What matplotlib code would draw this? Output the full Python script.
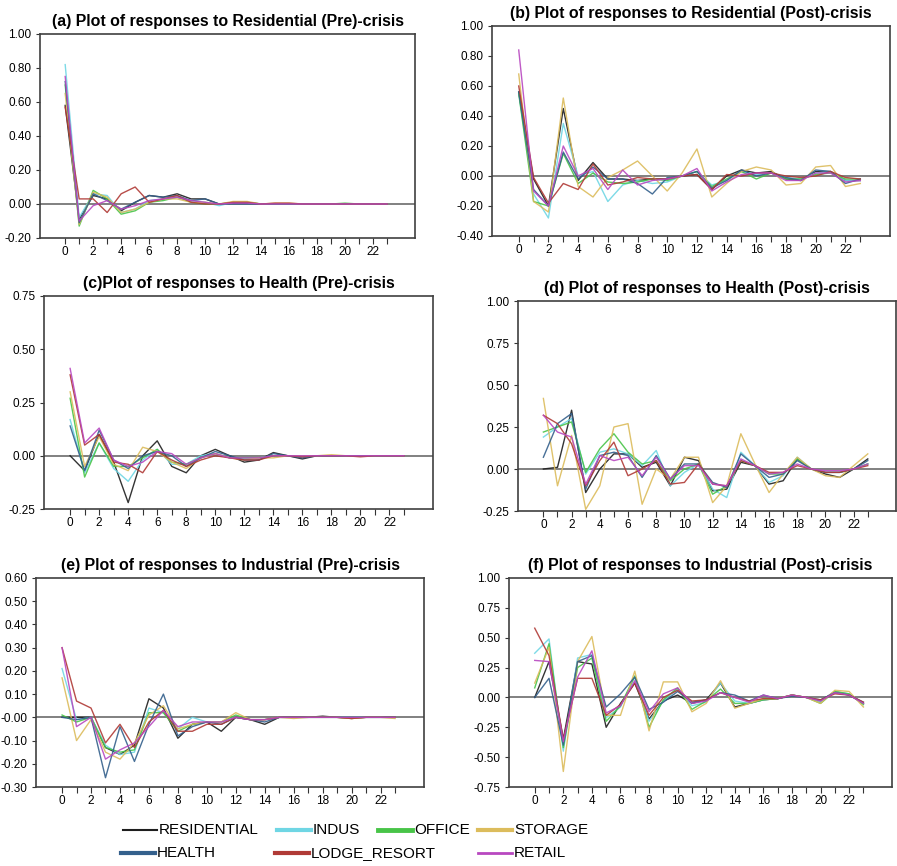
import numpy as np
import matplotlib
matplotlib.use("Agg")
import matplotlib.pyplot as plt
from matplotlib.lines import Line2D

plt.rcParams["font.family"] = ["Liberation Sans", "DejaVu Sans"]

# ===== 数据 =====
series_names = ["RESIDENTIAL", "INDUS", "OFFICE", "STORAGE", "HEALTH", "LODGE_RESORT", "RETAIL"]
series_colors = ["#1e1e1e", "#6fd6e4", "#48c448", "#dcbc5c", "#34608c", "#b03a36", "#b848c0"]
horizon = list(range(24))

# 每个面板: 7 条序列, 顺序同 series_names
resp_a = [
    [0.58, -0.09, 0.05, 0.03, -0.04, 0.01, 0.05, 0.04, 0.06, 0.03, 0.03, 0.00, 0.005, 0.005, 0, 0, 0, 0, 0, 0, 0, 0, 0, 0],
    [0.82, -0.08, 0.06, 0.05, -0.05, -0.03, 0.02, 0.03, 0.04, 0.02, 0.01, -0.01, 0.01, 0.01, 0, 0, 0, 0, 0, 0, 0, 0, 0, 0],
    [0.70, -0.13, 0.08, 0.03, -0.06, -0.04, 0.01, 0.02, 0.04, 0.01, 0.00, 0.00, 0.01, 0.01, 0, 0, 0, 0, 0, 0, 0.005, 0, 0, 0],
    [0.65, -0.12, 0.07, 0.04, -0.05, -0.03, 0.01, 0.03, 0.03, 0.01, 0.01, 0.00, 0.015, 0.015, 0, 0.005, 0.005, 0, 0, 0, 0, 0, 0, 0],
    [0.72, -0.11, 0.06, 0.02, -0.03, 0.01, 0.05, 0.04, 0.05, 0.02, 0.03, 0.00, 0, 0, 0, 0, 0, 0, 0, 0, 0, 0, 0, 0],
    [0.57, 0.03, 0.03, -0.05, 0.06, 0.10, 0.01, 0.03, 0.05, 0.01, 0.00, 0.00, 0.01, 0.01, 0, 0.005, 0.005, 0, 0, 0, 0, 0, 0, 0],
    [0.75, -0.10, -0.01, 0.02, -0.03, -0.01, 0.02, 0.03, 0.04, 0.02, 0.01, 0.00, 0.005, 0.005, 0, 0, 0, 0, 0, 0, 0, 0, 0, 0],
]
resp_b = [
    [0.56, -0.02, -0.20, 0.45, -0.03, 0.09, -0.02, -0.02, -0.03, -0.02, -0.02, 0.00, 0.01, -0.09, 0.00, 0.04, 0.02, 0.03, -0.02, -0.03, 0.03, 0.03, -0.03, -0.03],
    [0.55, -0.12, -0.28, 0.35, 0.00, 0.03, -0.17, -0.06, -0.03, -0.05, -0.04, 0.00, 0.03, -0.06, -0.03, 0.03, 0.01, 0.02, -0.01, -0.02, 0.02, 0.03, -0.03, -0.03],
    [0.55, -0.17, -0.20, 0.15, -0.05, 0.02, -0.04, -0.05, -0.04, -0.02, -0.03, 0.00, 0.03, -0.07, -0.02, 0.03, -0.02, 0.02, -0.02, -0.02, 0.01, 0.02, -0.02, -0.02],
    [0.68, -0.17, -0.24, 0.52, -0.07, -0.14, -0.01, 0.04, 0.10, 0.00, -0.10, 0.02, 0.18, -0.14, -0.05, 0.03, 0.06, 0.04, -0.06, -0.05, 0.06, 0.07, -0.07, -0.05],
    [0.56, -0.09, -0.20, 0.16, -0.02, 0.06, -0.02, -0.02, -0.05, -0.12, -0.01, 0.00, 0.03, -0.08, -0.03, 0.04, 0.00, 0.02, -0.01, -0.03, 0.04, 0.03, -0.05, -0.02],
    [0.60, -0.01, -0.18, -0.05, -0.09, 0.08, -0.06, -0.04, -0.01, -0.02, -0.02, 0.00, 0.01, -0.09, 0.01, 0.00, 0.02, 0.02, 0.00, -0.01, 0.00, 0.03, -0.01, -0.02],
    [0.84, -0.10, -0.20, 0.20, 0.00, 0.05, -0.09, 0.04, -0.06, -0.03, -0.02, 0.00, 0.05, -0.10, -0.04, 0.01, 0.02, 0.02, -0.03, -0.03, 0.02, 0.02, -0.04, -0.03],
]
resp_c = [
    [0.00, -0.07, 0.10, -0.03, -0.22, 0.00, 0.07, -0.05, -0.08, 0.00, 0.03, 0.00, -0.03, -0.02, 0.015, 0, -0.015, 0, 0, 0, 0, 0, 0, 0],
    [0.17, -0.08, 0.06, -0.06, -0.12, -0.02, 0.03, -0.04, -0.04, 0.00, 0.01, -0.01, -0.01, -0.01, 0, 0, 0, 0, 0, 0, 0, 0, 0, 0],
    [0.27, -0.10, 0.06, -0.05, -0.05, -0.01, 0.03, -0.03, -0.04, -0.01, 0.01, -0.01, -0.01, -0.01, 0, 0, 0, 0, 0, 0, 0, 0, 0, 0],
    [0.30, -0.05, 0.09, -0.04, -0.07, 0.04, 0.02, -0.03, -0.06, -0.01, 0.01, -0.01, -0.02, -0.01, -0.01, 0, 0, 0, 0.005, 0, 0, 0, 0, 0],
    [0.14, -0.07, 0.12, -0.02, -0.06, 0.00, 0.02, 0.00, -0.05, -0.01, 0.02, 0.00, -0.02, -0.02, 0.01, 0, -0.01, 0, 0, 0, 0, 0, 0, 0],
    [0.38, 0.05, 0.10, -0.03, -0.04, -0.08, 0.02, -0.02, -0.05, -0.02, 0.00, -0.01, -0.02, -0.02, 0, 0, -0.005, 0, 0, 0, -0.005, 0, 0, 0],
    [0.41, 0.06, 0.13, -0.02, -0.05, -0.03, 0.02, 0.01, -0.04, -0.01, 0.01, -0.01, -0.01, -0.01, 0, 0, 0, 0, 0, 0, 0, 0, 0, 0],
]
resp_d = [
    [0.00, 0.01, 0.35, -0.14, 0.00, 0.09, 0.09, 0.01, 0.04, -0.10, 0.07, 0.05, -0.13, -0.12, 0.04, 0.02, -0.09, -0.07, 0.06, 0.00, -0.03, -0.05, 0.00, 0.06],
    [0.19, 0.25, 0.30, -0.03, 0.10, 0.12, 0.09, 0.02, 0.11, -0.10, -0.02, 0.03, -0.12, -0.17, 0.10, 0.02, -0.08, -0.04, 0.07, 0.00, -0.02, -0.02, 0.00, 0.03],
    [0.22, 0.25, 0.28, -0.02, 0.12, 0.21, 0.10, 0.03, 0.05, -0.07, 0.00, 0.03, -0.15, -0.10, 0.05, 0.02, -0.03, -0.03, 0.06, 0.00, -0.02, -0.02, 0.00, 0.03],
    [0.42, -0.10, 0.20, -0.24, -0.10, 0.25, 0.27, -0.21, 0.00, -0.06, 0.07, 0.07, -0.20, -0.10, 0.21, 0.03, -0.14, -0.03, 0.07, 0.00, -0.04, -0.05, 0.02, 0.09],
    [0.07, 0.27, 0.33, -0.12, 0.08, 0.10, 0.08, -0.05, 0.08, -0.06, 0.03, 0.03, -0.08, -0.11, 0.09, 0.02, -0.05, -0.03, 0.05, 0.00, -0.02, -0.02, 0.00, 0.05],
    [0.32, 0.27, 0.15, -0.10, 0.05, 0.16, -0.04, 0.00, 0.05, -0.09, -0.08, 0.03, -0.09, -0.10, 0.05, 0.02, -0.02, -0.02, 0.02, 0.00, -0.02, -0.02, 0.00, 0.02],
    [0.32, 0.22, 0.19, -0.09, 0.08, 0.05, 0.07, -0.04, 0.07, -0.06, 0.02, 0.02, -0.09, -0.10, 0.06, 0.02, -0.03, -0.02, 0.03, 0.00, -0.01, -0.01, 0.00, 0.03],
]
resp_e = [
    [0.00, 0.00, 0.00, -0.13, -0.16, -0.12, 0.08, 0.04, -0.09, -0.03, -0.02, -0.06, 0.00, -0.01, -0.03, 0, 0, 0, 0.005, 0, -0.005, 0, 0, 0],
    [0.21, -0.01, 0.00, -0.12, -0.16, -0.15, 0.04, 0.02, -0.05, 0.00, -0.02, -0.02, 0.00, -0.01, -0.01, 0, 0, 0, 0, 0, 0, 0, 0, 0],
    [0.01, -0.02, 0.00, -0.13, -0.15, -0.14, 0.02, 0.02, -0.06, -0.03, -0.02, -0.02, 0.01, -0.01, -0.01, 0, 0, 0, 0, 0, 0, 0, 0, 0],
    [0.17, -0.10, -0.01, -0.15, -0.18, -0.11, 0.01, 0.05, -0.05, -0.03, -0.02, -0.02, 0.02, -0.01, -0.01, 0, -0.005, 0, 0, 0, -0.005, 0, 0, -0.005],
    [0.00, -0.01, 0.00, -0.26, -0.04, -0.19, -0.03, 0.10, -0.08, -0.04, -0.02, -0.03, 0.00, -0.01, -0.02, 0, 0, 0, 0, 0, 0, 0, 0, 0],
    [0.30, 0.07, 0.04, -0.11, -0.03, -0.13, -0.02, 0.03, -0.06, -0.06, -0.03, -0.03, 0.00, -0.01, -0.01, 0, 0, 0, 0, 0, -0.005, 0, 0, 0],
    [0.30, -0.04, 0.00, -0.18, -0.14, -0.11, -0.04, 0.03, -0.04, -0.02, -0.02, -0.02, 0.00, -0.01, -0.01, 0, 0, 0, 0, 0, 0, 0, 0, 0],
]
resp_f = [
    [0.00, 0.30, -0.35, 0.30, 0.28, -0.25, -0.05, 0.12, -0.18, -0.03, 0.02, -0.05, -0.02, 0.12, -0.08, -0.05, -0.02, -0.01, 0.02, 0.00, -0.03, 0.05, 0.02, -0.05],
    [0.37, 0.49, -0.45, 0.33, 0.36, -0.17, -0.08, 0.17, -0.20, -0.03, 0.07, -0.07, -0.04, 0.12, -0.03, -0.05, -0.02, -0.01, 0.02, 0.00, -0.04, 0.05, 0.03, -0.05],
    [0.08, 0.45, -0.42, 0.25, 0.33, -0.20, -0.07, 0.18, -0.25, -0.02, 0.08, -0.10, -0.03, 0.07, -0.05, -0.05, -0.02, -0.01, 0.02, 0.00, -0.05, 0.05, 0.03, -0.06],
    [0.12, 0.42, -0.62, 0.30, 0.51, -0.15, -0.15, 0.22, -0.28, 0.13, 0.13, -0.12, -0.05, 0.14, -0.09, -0.05, -0.01, -0.01, 0.02, 0.00, -0.05, 0.06, 0.05, -0.08],
    [0.00, 0.16, -0.40, 0.30, 0.35, -0.08, 0.03, 0.17, -0.10, -0.04, 0.05, -0.04, -0.02, 0.04, 0.02, -0.03, 0.02, -0.01, 0.01, 0.00, -0.02, 0.04, 0.02, -0.04],
    [0.58, 0.35, -0.35, 0.16, 0.16, -0.15, -0.06, 0.12, -0.15, 0.00, 0.06, -0.03, -0.02, 0.04, 0.00, -0.03, -0.01, -0.01, 0.02, 0.00, -0.02, 0.03, 0.02, -0.04],
    [0.31, 0.30, -0.37, 0.17, 0.39, -0.13, -0.07, 0.14, -0.12, 0.03, 0.08, -0.05, -0.03, 0.04, 0.00, -0.04, 0.02, -0.01, 0.02, 0.00, -0.03, 0.04, 0.02, -0.05],
]

titles = [
    "(a) Plot of responses to Residential (Pre)-crisis",
    "(b) Plot of responses to Residential (Post)-crisis",
    "(c)Plot of responses to Health (Pre)-crisis",
    "(d) Plot of responses to Health (Post)-crisis",
    "(e) Plot of responses to Industrial (Pre)-crisis",
    "(f) Plot of responses to Industrial (Post)-crisis",
]
yticks_a = [-0.2, 0.0, 0.2, 0.4, 0.6, 0.8, 1.0]
yticks_b = [-0.4, -0.2, 0.0, 0.2, 0.4, 0.6, 0.8, 1.0]
yticks_c = [-0.25, 0.0, 0.25, 0.5, 0.75]
yticks_d = [-0.25, 0.0, 0.25, 0.5, 0.75, 1.0]
yticks_e = [-0.3, -0.2, -0.1, 0.0, 0.1, 0.2, 0.3, 0.4, 0.5, 0.6]
yticks_f = [-0.75, -0.5, -0.25, 0.0, 0.25, 0.5, 0.75, 1.0]

# ===== 画布与各子图位置 =====
fig = plt.figure(figsize=(8.97, 8.66), dpi=100)
W, H = 897.0, 866.0
boxes = [  # left, top, right, bottom (像素)
    (40, 34, 415, 238),
    (492, 26, 890, 236),
    (44, 296, 433, 509),
    (518, 301, 896, 511),
    (36, 578, 424, 787),
    (509, 578, 892, 787),
]
all_resp = [resp_a, resp_b, resp_c, resp_d, resp_e, resp_f]
all_yticks = [yticks_a, yticks_b, yticks_c, yticks_d, yticks_e, yticks_f]


def fmt_tick(v, tidx):
    if tidx == 4 and v == 0:
        return "-0.00"
    return f"{v:.2f}"


for i, (l, t, r, b) in enumerate(boxes):
    ax = fig.add_axes([l / W, (H - b) / H, (r - l) / W, (b - t) / H])
    ax.axhline(0, color="#808080", linewidth=1.4, zorder=1)
    for k in range(len(series_names)):
        ax.plot(horizon, all_resp[i][k], color=series_colors[k], linewidth=1.0, alpha=0.9, zorder=2)
    yt = all_yticks[i]
    ax.set_ylim(yt[0], yt[-1])
    ax.set_xlim(-1.8, 25)
    ax.set_yticks(yt)
    ax.set_yticklabels([fmt_tick(v, i) for v in yt])
    ax.set_xticks(range(0, 23, 2))
    ax.set_xticks(range(0, 24), minor=True)
    ax.tick_params(axis="both", which="both", direction="out", labelsize=8.5, color="#333333", width=0.8)
    ax.tick_params(axis="x", which="major", length=4, pad=2)
    ax.tick_params(axis="x", which="minor", length=4)
    ax.tick_params(axis="y", length=3, pad=3)
    for sp in ax.spines.values():
        sp.set_color("#404040")
        sp.set_linewidth(1.2)
    ax.set_title(titles[i], fontsize=11.4, fontweight="bold", pad=6)

# ===== 图例 =====
legend_rows = [
    [(0, 123, 830), (1, 277, 830), (2, 378, 830), (3, 478, 830)],
    [(4, 121, 853), (5, 275, 853), (6, 478, 853)],
]
legend_widths = [1.5, 3.0, 3.5, 3.0, 3.0, 3.0, 2.0]
for row in legend_rows:
    for k, x0, y0 in row:
        yy = (H - y0) / H
        fig.add_artist(Line2D([x0 / W, (x0 + 34) / W], [yy, yy], color=series_colors[k],
                              linewidth=legend_widths[k], transform=fig.transFigure))
        fig.text((x0 + 36) / W, yy, series_names[k], fontsize=11, va="center", ha="left")

plt.savefig("out.png", dpi=100)
